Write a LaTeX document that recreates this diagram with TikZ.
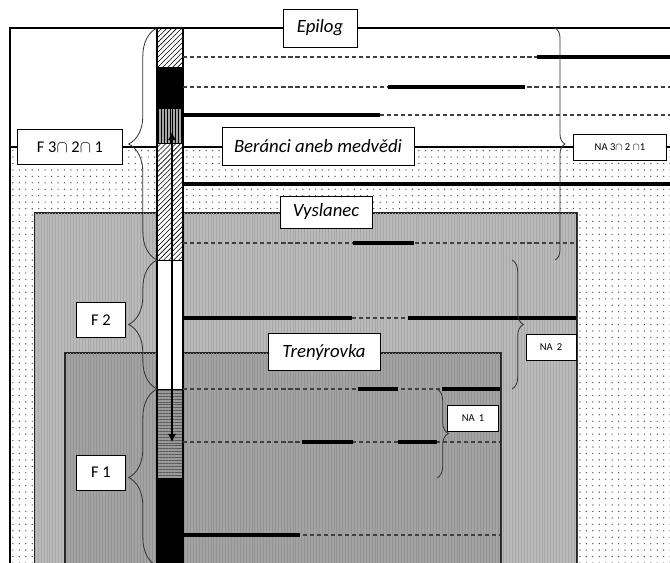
\documentclass[tikz,border=0pt]{standalone}
\usepackage{fontspec}
\setmainfont{Carlito}
\usetikzlibrary{positioning}
\usetikzlibrary{arrows.meta}
\usetikzlibrary{patterns.meta}
\usetikzlibrary{decorations.pathreplacing}

\begin{document}
\begin{tikzpicture}[x=0.03cm,y=-0.03cm]
\tikzset{scenebox/.style={rectangle, draw, fill=white, line width=0.7pt, font=\fontsize{16}{18}\selectfont\itshape}}
\tikzset{phasebox/.style={rectangle, draw, fill=white, line width=0.7pt, minimum width=1.47cm, minimum height=1.05cm, font=\fontsize{14}{16}\selectfont}}
\tikzset{nabox/.style={rectangle, draw, fill=white, line width=0.7pt, minimum height=0.78cm, font=\fontsize{9}{11}\selectfont}}
\tikzset{zone/.style={draw=black!85, line width=1.2pt}}
\tikzset{dashtrack/.style={dash pattern=on 3.5pt off 2.5pt, line width=1pt, black!75}}
\tikzset{thicktrack/.style={line width=3pt}}
\tikzset{lcurly/.style={decorate, decoration={brace, amplitude=0.85cm}, line width=0.7pt, black!80}}
\tikzset{rcurly/.style={decorate, decoration={brace, amplitude=0.34cm}, line width=0.7pt, black!80}}
\useasboundingbox (0,0) rectangle (670,563);
\clip (0,0) rectangle (670,563);

% frame and dotted ground
\draw[line width=1pt] (10,600) -- (10,28) -- (700,28);
\fill[pattern={Dots[distance=5.5pt,radius=0.6pt]}, pattern color=black!70] (10,147) rectangle (700,600);
\draw[line width=1pt] (10,147) -- (700,147);

% scenes
\draw[zone, fill=black!27, postaction={pattern={Lines[angle=90,distance=2.5pt,line width=0.6pt]}, pattern color=black!34}] (35,213) rectangle (577,600);
\draw[zone, fill=black!36, postaction={pattern={Lines[angle=90,distance=2.5pt,line width=0.6pt]}, pattern color=black!42}] (65,353) rectangle (501,600);

% the strip
\fill[white, postaction={pattern={Lines[angle=45,distance=3pt,line width=0.5pt]}}] (157,28) rectangle (183,67);
\fill[black] (157,67) rectangle (183,108);
\fill[black!35, postaction={pattern={Lines[angle=90,distance=2.5pt,line width=0.6pt]}}] (157,108) rectangle (183,143);
\fill[white, postaction={pattern={Lines[angle=45,distance=3pt,line width=0.5pt]}}] (157,143) rectangle (183,260);
\fill[white] (157,260) rectangle (183,389);
\fill[black!40, postaction={pattern={Lines[angle=0,distance=2.5pt,line width=0.6pt]}, pattern color=black!65}] (157,389) rectangle (183,478);
\fill[black] (157,478) rectangle (183,600);
\draw[line width=1pt] (157,28) rectangle (183,600);
\draw[line width=0.6pt] (157,67) -- (183,67) (157,108) -- (183,108) (157,143) -- (183,143)
  (157,260) -- (183,260) (157,389) -- (183,389) (157,478) -- (183,478);

% tracks
\draw[dashtrack] (183,57) -- (670,57);
\draw[dashtrack] (183,87) -- (670,87);
\draw[dashtrack] (183,115) -- (670,115);
\draw[dashtrack] (183,243) -- (576,243);
\draw[dashtrack] (183,389) -- (500,389);
\draw[dashtrack] (183,442) -- (500,442);
\draw[dashtrack] (183,535) -- (500,535);
\draw[dashtrack] (352,318) -- (408,318);
\draw[thicktrack] (537,57) -- (670,57);
\draw[thicktrack] (388,87) -- (525,87);
\draw[thicktrack] (183,115) -- (380,115);
\draw[thicktrack] (183,184) -- (670,184);
\draw[thicktrack] (353,243) -- (414,243);
\draw[thicktrack] (183,318) -- (352,318);
\draw[thicktrack] (408,318) -- (576,318);
\draw[thicktrack] (358,389) -- (398,389);
\draw[thicktrack] (442,389) -- (500,389);
\draw[thicktrack] (302,442) -- (353,442);
\draw[thicktrack] (398,442) -- (437,442);
\draw[thicktrack] (183,535) -- (300,535);

% run of the scenes
\coordinate (up) at (172,132);
\coordinate (down) at (172,442);
\draw[{Latex[length=7pt,width=7pt]}-{Latex[length=7pt,width=7pt]}, line width=0.9pt] (up) -- (down);

% braces
\coordinate (c0) at (157,28);
\coordinate (c1) at (157,260);
\coordinate (c2) at (157,389);
\coordinate (c3) at (157,566);
\draw[lcurly] (c1) -- (c0);
\draw[lcurly] (c2) -- (c1);
\draw[lcurly] (c3) -- (c2);
\coordinate (r0) at (555,28);
\coordinate (r1) at (555,260);
\coordinate (s0) at (512,260);
\coordinate (s1) at (512,389);
\coordinate (t0) at (437,389);
\coordinate (t1) at (437,478);
\draw[rcurly, decoration={amplitude=0.3cm}] (r0) -- (r1);
\draw[rcurly] (s0) -- (s1);
\draw[rcurly] (t0) -- (t1);

% labels
\node[scenebox, minimum width=2.22cm, minimum height=1.14cm] (epilog) at (320,28) {Epilog};
\node[scenebox, minimum width=5.76cm, minimum height=1.14cm] (beranci) at (318,146) {Beránci aneb medvědi};
\node[scenebox, minimum width=2.76cm, minimum height=0.96cm] (vyslanec) at (326,212) {Vyslanec};
\node[scenebox, minimum width=3.36cm, minimum height=1.11cm] (trenyrovka) at (324,352) {Trenýrovka};
\node[phasebox, minimum width=3.15cm] (f321) at (70,147) {F 3$\cap$ 2$\cap$ 1};
\node[phasebox] (f2) at (101,320) {F 2};
\node[phasebox, below=3.5cm of f2] (f1) {F 1};
\node[nabox, minimum width=2.79cm] (na321) at (620,147) {NA 3$\cap$ 2 $\cap$1};
\node[nabox, minimum width=1.5cm] (na2) at (551,347) {NA\, 2};
\node[nabox, minimum width=1.53cm] (na1) at (473,418) {NA\, 1};
\end{tikzpicture}
\end{document}
